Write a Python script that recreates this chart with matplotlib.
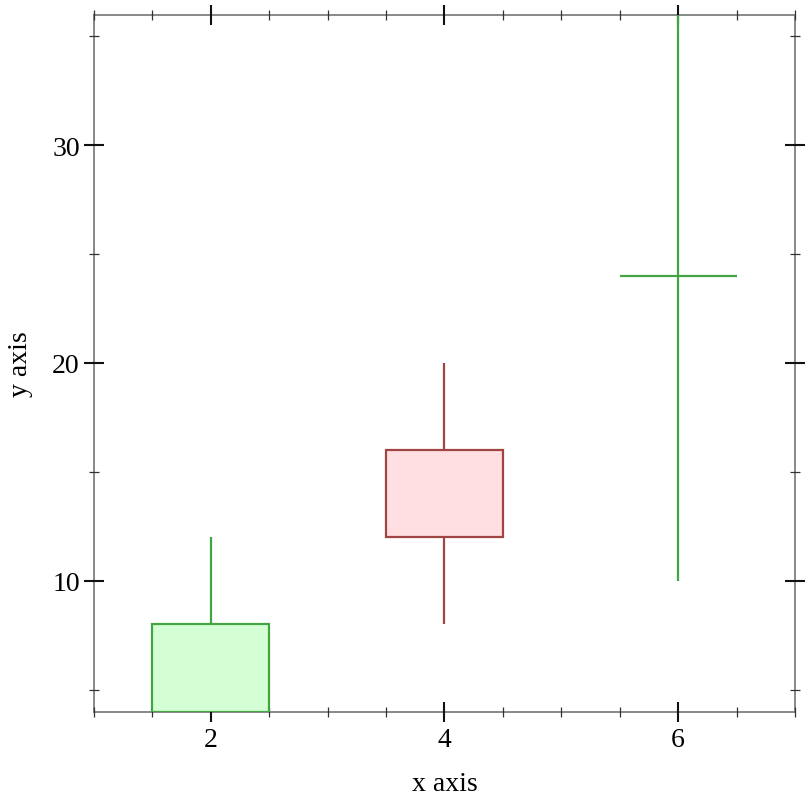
import matplotlib
matplotlib.use("Agg")
import matplotlib.pyplot as plt
from matplotlib.ticker import MultipleLocator

# candle data: x, open, high, low, close
xs     = [2, 4, 6]
opens  = [4, 16, 24]
highs  = [12, 20, 36]
lows   = [4, 8, 10]
closes = [8, 12, 24]

UP_EDGE, UP_FILL = "#44a444", "#d4ffd4"
DN_EDGE, DN_FILL = "#a04444", "#ffdfe1"

plt.rcParams["font.family"] = ["Liberation Serif", "DejaVu Serif"]
plt.rcParams["font.size"] = 20

fig = plt.figure(figsize=(8.12, 8.12), dpi=100)
ax = fig.add_axes([94 / 812, 99.5 / 812, 701 / 812, 697 / 812])

for x, o, h, l, c in zip(xs, opens, highs, lows, closes):
    edge, fill = (UP_EDGE, UP_FILL) if c >= o else (DN_EDGE, DN_FILL)
    ax.vlines(x, l, h, color=edge, lw=1.6, zorder=2)
    if o == c:
        ax.hlines(o, x - 0.5, x + 0.5, color=edge, lw=1.6, zorder=3)
    else:
        ax.bar(x, abs(c - o), bottom=min(o, c), width=1.0,
               color=fill, edgecolor=edge, linewidth=1.6, zorder=3)

ax.set_xlim(1, 7)
ax.set_ylim(4, 36)
ax.xaxis.set_major_locator(MultipleLocator(2))
ax.xaxis.set_minor_locator(MultipleLocator(0.5))
ax.yaxis.set_major_locator(MultipleLocator(10))
ax.yaxis.set_minor_locator(MultipleLocator(5))

for s in ax.spines.values():
    s.set_color("#7f7f7f")
    s.set_linewidth(1.3)
    s.set_zorder(1)

ax.tick_params(which="major", direction="inout", length=14.4, width=1.5,
               color="#111111", top=True, right=True, pad=4)
ax.tick_params(which="minor", direction="inout", length=7.2, width=0.9,
               color="#333333", top=True, right=True)
ax.tick_params(axis="y", which="major", pad=3)

ax.set_xlabel("x axis", labelpad=14)
ax.set_ylabel("y axis", labelpad=14)

fig.savefig("out.png", dpi=100, facecolor="white")
